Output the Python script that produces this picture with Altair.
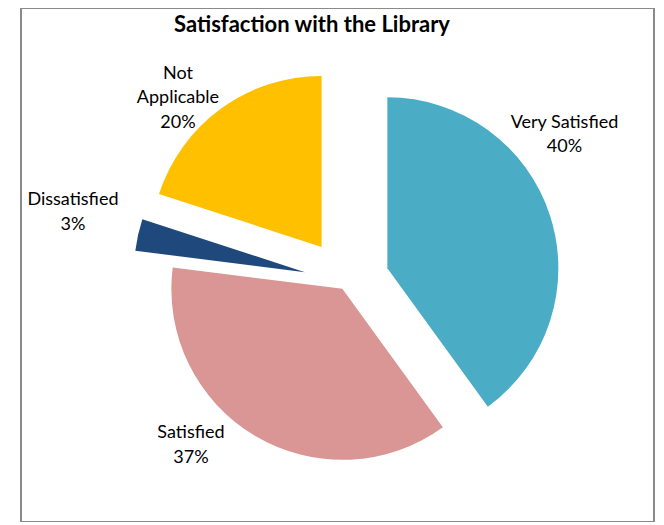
import altair as alt
import pandas as pd

# ---- data ----
categories = ["Very Satisfied", "Satisfied", "Dissatisfied", "Not Applicable"]
label_names = ["Very Satisfied", "Satisfied", "Dissatisfied", "Not\nApplicable"]
values = [40, 37, 3, 20]
title_text = "Satisfaction with the Library"

# ---- style ----
colors = ["#4BACC6", "#D99694", "#1F497D", "#FFC000"]
explode = [0.25, 0.05, 0.25, 0.25]            # fraction of radius
label_shift_deg = [-17.2, 14.25, 3.0, -3.8]   # label angle relative to slice mid-angle
label_radius = [266.5, 220.8, 284.2, 263.6]   # label distance from pie centre
CX, CY, R = 325.7, 273.5, 171
FONT = "Lato"

df = pd.DataFrame({
    "category": categories,
    "label": label_names,
    "value": values,
    "order": list(range(len(values))),
    "explode": explode,
    "shift": label_shift_deg,
    "lr": label_radius,
})

base = (
    alt.Chart(df)
    .transform_joinaggregate(total="sum(value)")
    .transform_window(cum="sum(value)", sort=[alt.SortField("order")], frame=[None, 0])
    .transform_calculate(t1="datum.cum / datum.total * 2 * PI")
    .transform_calculate(t0="(datum.cum - datum.value) / datum.total * 2 * PI")
    .transform_calculate(mid="(datum.t0 + datum.t1) / 2")
    .transform_calculate(px=f"{CX} + datum.explode * {R} * sin(datum.mid)")
    .transform_calculate(py=f"{CY} - datum.explode * {R} * cos(datum.mid)")
    .transform_calculate(la="datum.mid + datum.shift * PI / 180")
    .transform_calculate(lx=f"{CX} + datum.lr * sin(datum.la)")
    .transform_calculate(ly=f"{CY} - datum.lr * cos(datum.la)")
    .transform_calculate(txt="datum.label + '\\n' + datum.value + '%'")
)

arcs = base.mark_arc(outerRadius=R).encode(
    x=alt.X("px:Q", scale=None),
    y=alt.Y("py:Q", scale=None),
    theta=alt.Theta("t0:Q", scale=None),
    theta2="t1:Q",
    color=alt.Color("category:N", scale=alt.Scale(domain=categories, range=colors), legend=None),
)

labels = base.mark_text(
    font=FONT, fontSize=18, lineBreak="\n", lineHeight=24.5,
    align="center", baseline="alphabetic", color="black",
).encode(
    x=alt.X("lx:Q", scale=None),
    y=alt.Y("ly:Q", scale=None),
    text="txt:N",
)

title = alt.Chart(pd.DataFrame({"t": [title_text]})).mark_text(
    font=FONT, fontSize=22, fontWeight="bold", align="center", baseline="alphabetic", color="black"
).encode(x=alt.value(291), y=alt.value(23.5), text="t:N")

chart = alt.layer(arcs, labels, title).properties(
    width=633, height=514,
    padding={"left": 13, "top": 0, "right": 2, "bottom": 0},
    autosize="none",
).configure_view(stroke="#8a8a8a", strokeWidth=2, fill="white")

chart.save("out.html", embed_options={"renderer": "svg", "actions": False})
